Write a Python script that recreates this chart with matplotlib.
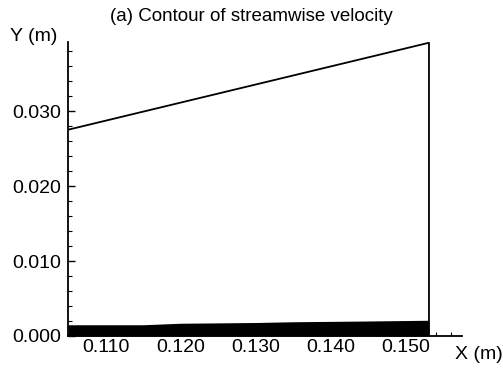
import numpy as np
import matplotlib.pyplot as plt
from matplotlib.ticker import MultipleLocator

plt.rcParams['font.family'] = ['Liberation Sans', 'DejaVu Sans']

# channel outline (m)
wall_x = [0.1050, 0.1531, 0.1531]
wall_y = [0.0275, 0.0391, 0.0]

# thickness of the dense contour band along the lower wall (m)
band_x = [0.1050, 0.1150, 0.1200, 0.1300, 0.1350, 0.1450, 0.1531]
band_y = [0.0015, 0.0015, 0.0017, 0.0018, 0.0019, 0.0020, 0.0021]

fig = plt.figure(figsize=(5.03, 3.68), dpi=100)
ax = fig.add_axes([68/503, 32/368, (462-68)/503, (336-42)/368])

ax.fill_between(band_x, 0, band_y, color='black', lw=0)
ax.plot(wall_x, wall_y, color='black', lw=1.3, solid_capstyle='butt')

ax.set_xlim(0.1050, 0.1575)
ax.set_ylim(0.0, 0.0392)

ax.spines['top'].set_visible(False)
ax.spines['right'].set_visible(False)
ax.spines['left'].set_linewidth(1.3)
ax.spines['bottom'].set_linewidth(1.3)

ax.xaxis.set_major_locator(MultipleLocator(0.010))
ax.xaxis.set_minor_locator(MultipleLocator(0.002))
ax.yaxis.set_major_locator(MultipleLocator(0.010))
ax.yaxis.set_minor_locator(MultipleLocator(0.002))
ax.xaxis.set_major_formatter(lambda v, p: f"{v:.3f}")
ax.yaxis.set_major_formatter(lambda v, p: f"{v:.3f}")
ax.tick_params(which='major', direction='in', length=5, width=1, labelsize=14)
ax.tick_params(axis='x', which='major', pad=2)
ax.tick_params(axis='y', which='major', pad=5)
ax.tick_params(which='minor', direction='in', length=3, width=0.8)

ax.text(-11/394, 1.02, "Y (m)", transform=ax.transAxes, ha='right', va='center', fontsize=14)
ax.text((455-68)/394, -0.035, "X (m)", transform=ax.transAxes, ha='left', va='top', fontsize=14)
fig.text(0.5, 0.955, "(a) Contour of streamwise velocity", ha='center', va='center', fontsize=13.5)

fig.savefig("out.png", dpi=100)
